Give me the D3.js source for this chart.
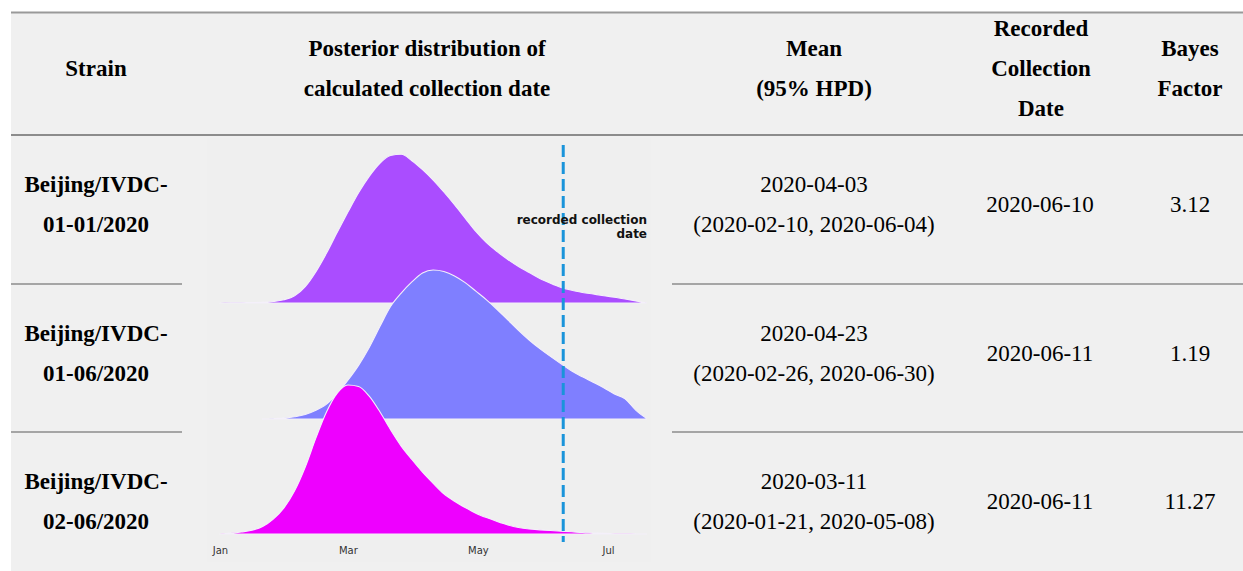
<!DOCTYPE html>
<html>
<head>
<meta charset="utf-8">
<script src="https://cdnjs.cloudflare.com/ajax/libs/d3/7.8.5/d3.min.js"></script>
<style>
 body { margin: 0; background: #fff; }
 svg { display: block; }
</style>
</head>
<body>
<div id="chart"></div>
<script>
// table contents
var headers = [
  ["Strain"],
  ["Posterior distribution of", "calculated collection date"],
  ["Mean", "(95% HPD)"],
  ["Recorded", "Collection", "Date"],
  ["Bayes", "Factor"]
];
var strains = [["Beijing/IVDC-", "01-01/2020"], ["Beijing/IVDC-", "01-06/2020"], ["Beijing/IVDC-", "02-06/2020"]];
var meanDates = ["2020-04-03", "2020-04-23", "2020-03-11"];
var hpdRanges = ["(2020-02-10, 2020-06-04)", "(2020-02-26, 2020-06-30)", "(2020-01-21, 2020-05-08)"];
var recordedDates = ["2020-06-10", "2020-06-11", "2020-06-11"];
var bayesFactors = ["3.12", "1.19", "11.27"];

// posterior densities (scaled to peak = 1), sampled every 5 days
var sampleDates = ["2020-01-01","2020-01-06","2020-01-11","2020-01-16","2020-01-21","2020-01-26","2020-01-31",
  "2020-02-05","2020-02-10","2020-02-15","2020-02-20","2020-02-25","2020-03-01","2020-03-06","2020-03-11",
  "2020-03-16","2020-03-21","2020-03-26","2020-03-31","2020-04-05","2020-04-10","2020-04-15","2020-04-20",
  "2020-04-25","2020-04-30","2020-05-05","2020-05-10","2020-05-15","2020-05-20","2020-05-25","2020-05-30",
  "2020-06-04","2020-06-09","2020-06-14","2020-06-19","2020-06-24","2020-06-29","2020-07-04","2020-07-09",
  "2020-07-14","2020-07-19"];
var density1 = [0, 0.001, 0.002, 0.003, 0.004, 0.01, 0.022, 0.048, 0.11, 0.21, 0.335, 0.475, 0.61, 0.74, 0.85,
  0.938, 0.99, 0.998, 0.955, 0.895, 0.825, 0.745, 0.66, 0.57, 0.48, 0.405, 0.345, 0.292, 0.245, 0.205, 0.165,
  0.133, 0.105, 0.085, 0.071, 0.06, 0.049, 0.039, 0.027, 0.014, 0];
var density2 = [null, null, null, null, 0, 0.002, 0.006, 0.015, 0.03, 0.058, 0.1, 0.17, 0.26, 0.36, 0.48,
  0.62, 0.755, 0.845, 0.92, 0.98, 1.0, 0.99, 0.96, 0.915, 0.858, 0.8, 0.735, 0.665, 0.595, 0.53, 0.472,
  0.42, 0.37, 0.322, 0.283, 0.247, 0.21, 0.168, 0.135, 0.06, 0.005];
var density3 = [0, 0.006, 0.013, 0.025, 0.05, 0.1, 0.175, 0.29, 0.45, 0.645, 0.82, 0.945, 1.0, 0.99, 0.925,
  0.82, 0.7, 0.59, 0.5, 0.415, 0.34, 0.27, 0.22, 0.178, 0.14, 0.11, 0.084, 0.061, 0.044, 0.034, 0.028,
  0.023, 0.019, 0.015, 0.01, 0.007, 0.004, 0.002, 0.001, 0.0005, 0];
var tickDates = ["2020-01-01", "2020-03-01", "2020-05-01", "2020-07-01"];
var recordedLine = "2020-06-10";

var width = 1243, height = 571;
var parse = d3.timeParse("%Y-%m-%d");
var serif = "'Liberation Serif', 'Times New Roman', serif";
var sans = "'DejaVu Sans', sans-serif";

var svg = d3.select("#chart").append("svg")
  .attr("width", width).attr("height", height);

svg.append("rect").attr("x", 11).attr("y", 12).attr("width", width - 11).attr("height", height - 12)
  .attr("fill", "#f0f0f0");
svg.append("rect").attr("x", 207).attr("y", 138).attr("width", 444).attr("height", 424)
  .attr("fill", "#efefef");

// table rules
svg.append("line").attr("x1", 11).attr("x2", width).attr("y1", 12.5).attr("y2", 12.5)
  .attr("stroke", "#999").attr("stroke-width", 2);
svg.append("line").attr("x1", 11).attr("x2", width).attr("y1", 135).attr("y2", 135)
  .attr("stroke", "#8c8c8c").attr("stroke-width", 2);
[284, 432].forEach(function(y) {
  svg.append("line").attr("x1", 11).attr("x2", 182).attr("y1", y).attr("y2", y)
    .attr("stroke", "#8c8c8c").attr("stroke-width", 1.5);
  svg.append("line").attr("x1", 672).attr("x2", width).attr("y1", y).attr("y2", y)
    .attr("stroke", "#8c8c8c").attr("stroke-width", 1.5);
});

// multi-line centred text cell
function cell(lines, cx, cy, bold) {
  var lh = 40;
  var t = svg.append("text")
    .attr("text-anchor", "middle")
    .style("font-family", serif)
    .style("font-size", "23px")
    .style("font-weight", bold ? "bold" : "normal")
    .attr("fill", "#000");
  lines.forEach(function(s, i) {
    t.append("tspan").attr("x", cx)
      .attr("y", cy + (i - (lines.length - 1) / 2) * lh + 8)
      .text(s);
  });
}

var headerX = [96, 427, 814, 1041, 1190];
headers.forEach(function(h, i) { cell(h, headerX[i], 68, true); });

var rowY = [204, 353, 501];
rowY.forEach(function(cy, i) {
  cell(strains[i], 96, cy, true);
  cell([meanDates[i], hpdRanges[i]], 814, cy, false);
  cell([recordedDates[i]], 1040, cy, false);
  cell([bayesFactors[i]], 1190, cy, false);
});

// ridgeline chart
var x = d3.scaleTime()
  .domain([parse("2020-01-01"), parse("2020-07-01")])
  .range([220, 608]);
var h = d3.scaleLinear().domain([0, 1]).range([0, 149]);

var ridges = [
  { values: density1, base: 303, color: "#aa4dff" },
  { values: density2, base: 419, color: "#7f7fff" },
  { values: density3, base: 534, color: "#ee00ff" }
];

var dates = sampleDates.map(parse);

ridges.forEach(function(r) {
  var pts = dates.map(function(d, i) { return { date: d, v: r.values[i] }; })
    .filter(function(p) { return p.v != null; });
  var area = d3.area()
    .x(function(p) { return x(p.date); })
    .y0(r.base)
    .y1(function(p) { return r.base - h(p.v); })
    .curve(d3.curveMonotoneX);
  svg.append("path")
    .datum(pts)
    .attr("d", area)
    .attr("fill", r.color)
    .attr("stroke", "#f4f0fa")
    .attr("stroke-width", 1.1)
    .attr("stroke-linejoin", "round");
});

var axis = d3.axisBottom(x)
  .tickValues(tickDates.map(parse))
  .tickFormat(d3.timeFormat("%b"))
  .tickSize(0)
  .tickPadding(3);
var gx = svg.append("g").attr("transform", "translate(0,544)").call(axis);
gx.select(".domain").remove();
gx.selectAll("text").style("font-family", sans).style("font-size", "10px").attr("fill", "#333");

// recorded collection date marker
var xr = x(parse(recordedLine));
svg.append("line")
  .attr("x1", xr).attr("x2", xr).attr("y1", 145).attr("y2", 542)
  .attr("stroke", "#1a94da").attr("stroke-width", 3)
  .attr("stroke-dasharray", "12,5");

var note = svg.append("text")
  .attr("text-anchor", "end")
  .style("font-family", sans)
  .style("font-size", "12px")
  .style("font-weight", "bold")
  .attr("fill", "#111");
note.append("tspan").attr("x", 647).attr("y", 224).text("recorded collection");
note.append("tspan").attr("x", 647).attr("y", 238).text("date");
</script>
</body>
</html>
